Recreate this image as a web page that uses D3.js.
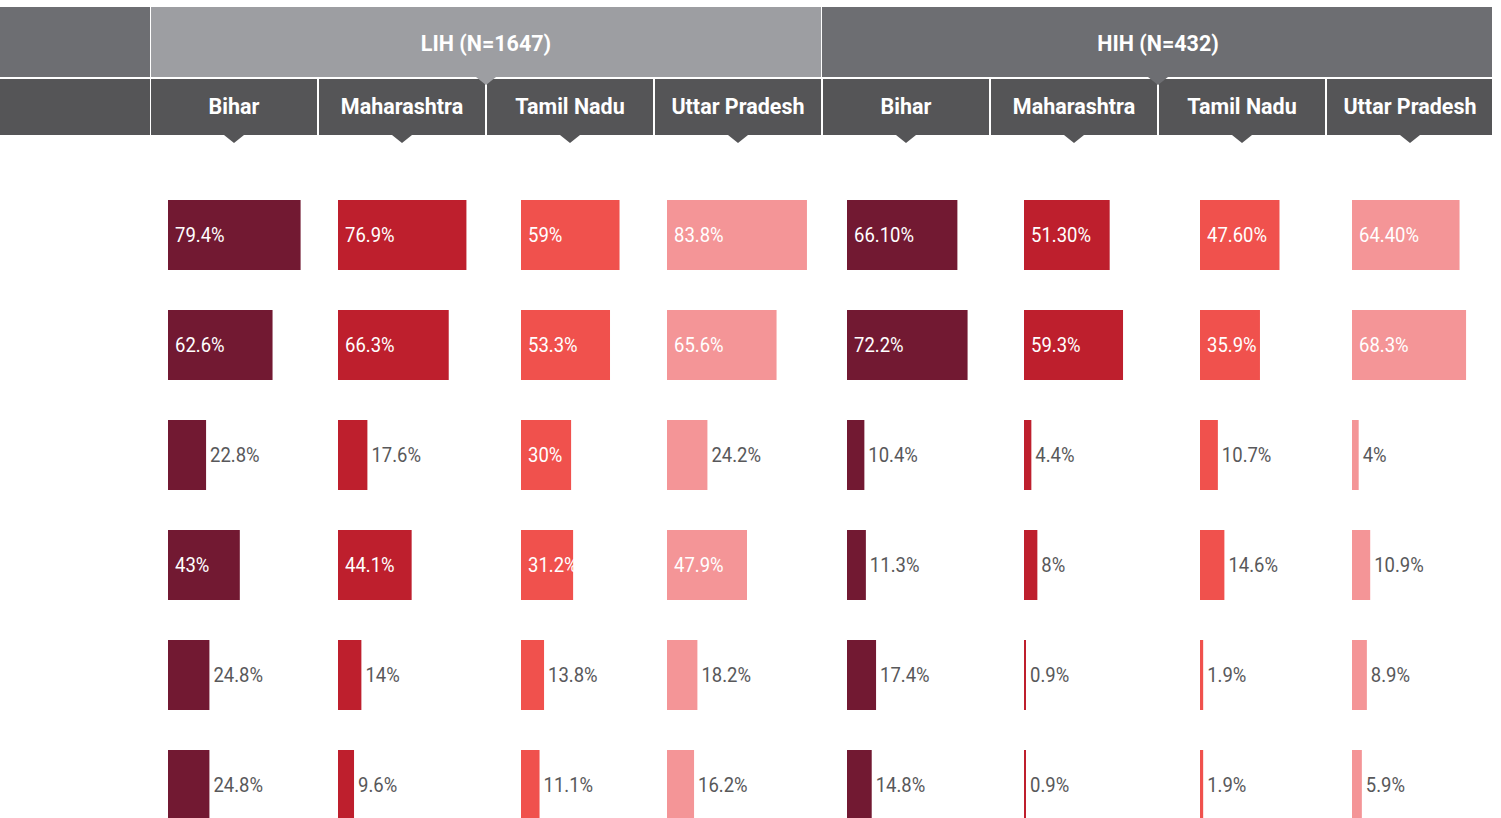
<!DOCTYPE html>
<html>
<head>
<meta charset="utf-8">
<script src="https://cdn.jsdelivr.net/npm/d3@7/dist/d3.min.js"></script>
<style>
  body { margin: 0; background: #fff; }
  svg { display: block; font-family: Roboto, "Noto Sans", sans-serif; }
</style>
</head>
<body>
<svg id="chart" width="1501" height="818"></svg>
<script>
// groups and states
const groups = ["LIH (N=1647)", "HIH (N=432)"];
const states = ["Bihar", "Maharashtra", "Tamil Nadu", "Uttar Pradesh"];

// one array per column (group x state), six rows each, in %
const lihBihar       = [79.4, 62.6, 22.8, 43, 24.8, 24.8];
const lihMaharashtra = [76.9, 66.3, 17.6, 44.1, 14, 9.6];
const lihTamilNadu   = [59, 53.3, 30, 31.2, 13.8, 11.1];
const lihUttar       = [83.8, 65.6, 24.2, 47.9, 18.2, 16.2];
const hihBihar       = [66.1, 72.2, 10.4, 11.3, 17.4, 14.8];
const hihMaharashtra = [51.3, 59.3, 4.4, 8, 0.9, 0.9];
const hihTamilNadu   = [47.6, 35.9, 10.7, 14.6, 1.9, 1.9];
const hihUttar       = [64.4, 68.3, 4, 10.9, 8.9, 5.9];

// labels as printed
const lihBiharLbl       = ["79.4%", "62.6%", "22.8%", "43%", "24.8%", "24.8%"];
const lihMaharashtraLbl = ["76.9%", "66.3%", "17.6%", "44.1%", "14%", "9.6%"];
const lihTamilNaduLbl   = ["59%", "53.3%", "30%", "31.2%", "13.8%", "11.1%"];
const lihUttarLbl       = ["83.8%", "65.6%", "24.2%", "47.9%", "18.2%", "16.2%"];
const hihBiharLbl       = ["66.10%", "72.2%", "10.4%", "11.3%", "17.4%", "14.8%"];
const hihMaharashtraLbl = ["51.30%", "59.3%", "4.4%", "8%", "0.9%", "0.9%"];
const hihTamilNaduLbl   = ["47.60%", "35.9%", "10.7%", "14.6%", "1.9%", "1.9%"];
const hihUttarLbl       = ["64.40%", "68.3%", "4%", "10.9%", "8.9%", "5.9%"];

const columns = [
  { values: lihBihar, labels: lihBiharLbl },
  { values: lihMaharashtra, labels: lihMaharashtraLbl },
  { values: lihTamilNadu, labels: lihTamilNaduLbl },
  { values: lihUttar, labels: lihUttarLbl },
  { values: hihBihar, labels: hihBiharLbl },
  { values: hihMaharashtra, labels: hihMaharashtraLbl },
  { values: hihTamilNadu, labels: hihTamilNaduLbl },
  { values: hihUttar, labels: hihUttarLbl },
];

const stateColor = d3.scaleOrdinal(states, ["#721932", "#be1f2d", "#f0514d", "#f49597"]);

// layout
const colW = 168, left = 150;
const barOffset = [18, 20, 35, 13, 25, 34, 42, 26]; // where each column's bars start
const colX = d3.scaleBand().domain(d3.range(8)).range([left, left + 8 * colW]);
// 70px bars on a 110px step
const rowY = d3.scaleBand().domain(d3.range(6)).range([200, 200 + 5 * 110 + 70]).paddingInner(40 / 110);
const w = d3.scaleLinear().domain([0, 100]).range([0, 167]);

const svg = d3.select("#chart");

// header, top row
svg.append("rect").attr("x", 0).attr("y", 7).attr("width", 150).attr("height", 70).attr("fill", "#6d6e72");
groups.forEach((g, i) => {
  const x0 = left + i * 4 * colW + (i ? 0 : 1);
  const gw = 4 * colW - 2;
  const fill = i ? "#6d6e72" : "#9d9ea2";
  svg.append("rect").attr("x", x0).attr("y", 7).attr("width", gw).attr("height", 70).attr("fill", fill);
  const cx = left + i * 4 * colW + 2 * colW;
  svg.append("text")
    .attr("x", cx).attr("y", 43)
    .attr("text-anchor", "middle").attr("dominant-baseline", "central")
    .attr("fill", "#fff").attr("font-size", 21.5).attr("font-weight", 700)
    .text(g);
});

// header, state row
svg.append("rect").attr("x", 0).attr("y", 79).attr("width", 150).attr("height", 56).attr("fill", "#555557");
d3.range(8).forEach(i => {
  const x0 = colX(i) + 1;
  svg.append("rect").attr("x", x0).attr("y", 79).attr("width", colW - 2 - (i === 7 ? 1 : 0)).attr("height", 56).attr("fill", "#555557");
  const cx = colX(i) + colW / 2;
  svg.append("path")
    .attr("d", `M${cx - 10},135 L${cx + 10},135 L${cx},143 Z`)
    .attr("fill", "#555557");
  svg.append("text")
    .attr("x", cx).attr("y", 106)
    .attr("text-anchor", "middle").attr("dominant-baseline", "central")
    .attr("fill", "#fff").attr("font-size", 21.5).attr("font-weight", 700)
    .text(states[i % 4]);
});
// group pointers over the state row
groups.forEach((g, i) => {
  const cx = left + i * 4 * colW + 2 * colW;
  svg.append("path")
    .attr("d", `M${cx - 10},77 L${cx + 10},77 L${cx},85 Z`)
    .attr("fill", i ? "#6d6e72" : "#9d9ea2");
});

// bars
columns.forEach((col, ci) => {
  const g = svg.append("g");
  const x0 = colX(ci) + barOffset[ci];
  const color = stateColor(states[ci % 4]);
  const rows = col.values.map((v, ri) => ({ v, label: col.labels[ri], ri }));
  const inside = d => d.v >= 28;

  g.selectAll("rect").data(rows).join("rect")
    .attr("x", x0)
    .attr("y", d => rowY(d.ri))
    .attr("width", d => Math.max(2, w(d.v)))
    .attr("height", rowY.bandwidth())
    .attr("fill", color);

  // condensed look: squeeze the labels horizontally
  g.selectAll("text").data(rows).join("text")
    .attr("transform", d => {
      const tx = inside(d) ? x0 + 7 : x0 + Math.max(2, w(d.v)) + 4;
      return `translate(${tx},${rowY(d.ri) + rowY.bandwidth() / 2}) scale(0.88,1)`;
    })
    .attr("dominant-baseline", "central")
    .attr("font-size", 21)
    .attr("fill", d => inside(d) ? "#fff" : "#58585a")
    .text(d => d.label);
});
</script>
</body>
</html>
